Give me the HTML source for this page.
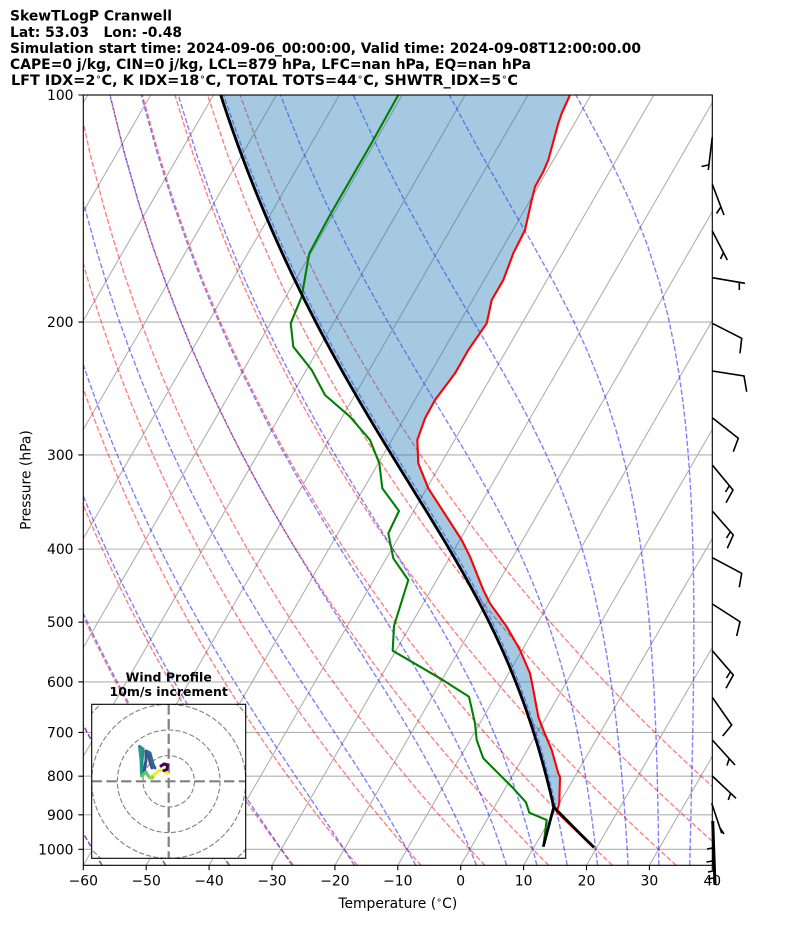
<!DOCTYPE html>
<html><head><meta charset="utf-8">
<style>
html,body{margin:0;padding:0;background:#fff;}
svg{display:block;}
text{font-family:"DejaVu Sans","Liberation Sans",sans-serif;fill:#000;}
.t{font-weight:bold;font-size:13.9px;white-space:pre;}
.tk{font-size:13.9px;}
</style></head>
<body>
<svg id="s" width="794" height="937" viewBox="0 0 794 937" xmlns="http://www.w3.org/2000/svg">
<defs>
<clipPath id="cp"><rect x="83.3" y="95" width="629" height="770.3"/></clipPath>
<clipPath id="ci"><rect x="91.7" y="704.3" width="154" height="154"/></clipPath>
</defs>
<rect width="794" height="937" fill="#fff"/>

<!-- titles -->
<text class="t" x="10" y="20.7" textLength="162" lengthAdjust="spacingAndGlyphs">SkewTLogP Cranwell</text>
<text class="t" x="10" y="36.8" textLength="172" lengthAdjust="spacingAndGlyphs" xml:space="preserve">Lat: 53.03   Lon: -0.48</text>
<text class="t" x="10" y="52.9" textLength="631" lengthAdjust="spacingAndGlyphs">Simulation start time: 2024-09-06_00:00:00, Valid time: 2024-09-08T12:00:00.00</text>
<text class="t" x="10" y="69" textLength="521" lengthAdjust="spacingAndGlyphs">CAPE=0 j/kg, CIN=0 j/kg, LCL=879 hPa, LFC=nan hPa, EQ=nan hPa</text>
<text class="t" x="11" y="85.1" textLength="507" lengthAdjust="spacingAndGlyphs" xml:space="preserve">LFT IDX=2<tspan dy="-5" font-size="9.5" font-weight="normal">∘</tspan><tspan dy="5">C, K IDX=18</tspan><tspan dy="-5" font-size="9.5" font-weight="normal">∘</tspan><tspan dy="5">C, TOTAL TOTS=44</tspan><tspan dy="-5" font-size="9.5" font-weight="normal">∘</tspan><tspan dy="5">C, SHWTR_IDX=5</tspan><tspan dy="-5" font-size="9.5" font-weight="normal">∘</tspan><tspan dy="5">C</tspan></text>

<g id="bg" clip-path="url(#cp)"></g>

<g clip-path="url(#cp)" fill="none" stroke-linejoin="round">
<polyline stroke="#ff0000" stroke-width="2.1" points="570,95 561.7,113.3 558.3,123.3 548.3,160 543.3,171.7 535,186.7 531.7,200 525,230 513.3,253.3 503.3,280 491.7,300 486.7,323.3 468.3,350 455,373.3 435,400 425,418.3 417.3,440 418.3,463.3 428.3,488.3 461.7,540 470,556.7 483.3,590 490,603.3 506.7,626.7 520,650 530,673.3 532.7,686.7 538.3,716.7 543.3,730 551.7,750 558.3,773.3 560,776.7 559.3,803.3 556.7,811.7 593.3,847.3"/>
<polyline stroke="#008000" stroke-width="2.1" points="398.3,95 373.3,140 330,215 309.3,253.3 301.7,296.7 290.7,323.3 293.3,346.7 311.7,370 325,395 350,416.7 370,440 379.3,463.3 382.3,488.3 399,511 388.3,533.3 393.3,558.3 408.3,580 394,626 392.7,650.7 440,678.3 469,696.7 475,723.3 476.7,740 483.3,758.3 513.3,788.3 526,802.3 529.3,812.7 546.7,820 543.3,846.7"/>
</g>
<g id="pc" clip-path="url(#cp)"></g>

<!-- axes frame -->
<rect x="83.3" y="95" width="629" height="770.3" fill="none" stroke="#000" stroke-width="1.1"/>

<!-- inset hodograph -->
<g>
<text x="168.7" y="681.7" text-anchor="middle" font-weight="bold" font-size="12.5">Wind Profile</text>
<text x="168.7" y="696" text-anchor="middle" font-weight="bold" font-size="12.5">10m/s increment</text>
<rect x="91.7" y="704.3" width="154" height="154" fill="#fff"/>
<g clip-path="url(#ci)" fill="none" stroke="#808080">
<circle cx="168.7" cy="781.3" r="25.7" stroke-width="1.1" stroke-dasharray="5.1 2.2"/>
<circle cx="168.7" cy="781.3" r="51.3" stroke-width="1.1" stroke-dasharray="5.1 2.2"/>
<circle cx="168.7" cy="781.3" r="77" stroke-width="1.1" stroke-dasharray="5.1 2.2"/>
<circle cx="168.7" cy="781.3" r="102.7" stroke-width="1.1" stroke-dasharray="5.1 2.2"/>
<line x1="91.7" y1="781.3" x2="245.7" y2="781.3" stroke-width="2.2" stroke-dasharray="10.3 4.4"/>
<line x1="168.7" y1="704.3" x2="168.7" y2="858.3" stroke-width="2.2" stroke-dasharray="10.3 4.4"/>
</g>
<g fill="none" stroke-width="3" stroke-linejoin="round" stroke-linecap="round">
<polyline stroke="#2a9d8f" points="139.5,746.5 141,760 141.5,775"/>
<polyline stroke="#21918c" points="139.5,746.5 143,749 142,762 142.5,774"/>
<polyline stroke="#3b528b" points="144,774 146,760 146,751 148,752 150,762 152,768"/>
<polyline stroke="#31688e" points="148,752 150,753 153,764 155,768"/>
<polyline stroke="#5ec962" points="141.5,776 146,772 149,777 152,778 154,775"/>
<polyline stroke="#a0da39" points="150,778 154,775"/>
<polyline stroke="#fde725" points="154,775 158,771 162,770 167.5,773"/>
<polyline stroke="#440154" points="161,766 164,764 167.5,765 167,769.5 164,770.5"/>
</g>
<rect x="91.7" y="704.3" width="154" height="154" fill="none" stroke="#000" stroke-width="1.1"/>
</g>

<!-- wind barbs -->
<path fill="none" stroke="#000" stroke-width="1.6" d="
M712.3,137L708.3,170M708.3,165L701.5,166.5
M712.3,184.3L724,215M720.5,207.5L716.5,213.5
M712.3,231L727.3,260M723.5,252.5L720.5,259
M712.3,277.7L745,283.3M739.3,282.4L739.3,290
M712.3,323.3L741.7,338.3L740,353.3
M712.3,371L744,376L746.7,391.7
M712.3,417.7L738.3,438.3L733.3,451.7
M712.3,465L733,490L726,502.7M729.5,485.5L725.5,492
M712.3,511L733.3,535L727.3,548.3M730.5,531.5L726.5,538
M712.3,557.7L741.7,573.3L739.3,587.3
M712.3,604L740,621.7L736.7,636
M712.3,650.7L733.3,675L726,688.3M730.5,671.5L726.5,678
M712.3,697.3L731.7,725L722.7,736
M712.3,740L735,765M729.3,758.3L727,765.5
M712.3,776L736,798.3M730.7,793L728.3,800
M711.7,803.3L721.7,833.3M720,828L724,834
M712,848L707,849M712.5,861L706.5,862M713,871L708,872M713.5,878L708,879
"/>
<path fill="none" stroke="#000" stroke-width="3" d="M712.7,821L715,885"/>

<!-- ticks -->
<path stroke="#000" stroke-width="1.1" fill="none" d="
M83.3,865.3v4.9M146.2,865.3v4.9M209.1,865.3v4.9M272,865.3v4.9M334.9,865.3v4.9M397.8,865.3v4.9M460.7,865.3v4.9M523.6,865.3v4.9M586.5,865.3v4.9M649.4,865.3v4.9M712.3,865.3v4.9
M83.3,95h-4.9M83.3,322.07h-4.9M83.3,454.89h-4.9M83.3,549.13h-4.9M83.3,622.23h-4.9M83.3,681.96h-4.9M83.3,732.46h-4.9M83.3,776.2h-4.9M83.3,814.78h-4.9M83.3,849.3h-4.9"/>
<g class="tk" text-anchor="middle">
<text x="83.3" y="885.5" font-size="13.9">−60</text>
<text x="146.2" y="885.5" font-size="13.9">−50</text>
<text x="209.1" y="885.5" font-size="13.9">−40</text>
<text x="272" y="885.5" font-size="13.9">−30</text>
<text x="334.9" y="885.5" font-size="13.9">−20</text>
<text x="397.8" y="885.5" font-size="13.9">−10</text>
<text x="460.7" y="885.5" font-size="13.9">0</text>
<text x="523.6" y="885.5" font-size="13.9">10</text>
<text x="586.5" y="885.5" font-size="13.9">20</text>
<text x="649.4" y="885.5" font-size="13.9">30</text>
<text x="712.3" y="885.5" font-size="13.9">40</text>
</g>
<g text-anchor="end" font-size="13.9">
<text x="73.5" y="100">100</text>
<text x="73.5" y="327.1">200</text>
<text x="73.5" y="459.9">300</text>
<text x="73.5" y="554.1">400</text>
<text x="73.5" y="627.2">500</text>
<text x="73.5" y="687">600</text>
<text x="73.5" y="737.5">700</text>
<text x="73.5" y="781.2">800</text>
<text x="73.5" y="819.8">900</text>
<text x="73.5" y="854.3">1000</text>
</g>
<text x="397.8" y="908" text-anchor="middle" font-size="13.9" xml:space="preserve">Temperature (<tspan dy="-5" font-size="9.5">∘</tspan><tspan dy="5">C)</tspan></text>
<text transform="translate(30.5,480) rotate(-90)" text-anchor="middle" font-size="13.9">Pressure (hPa)</text>
</svg>

<script>
(function(){
var NS="http://www.w3.org/2000/svg";
var X0=83.3,XS=6.29,YB=865.3,YT=95,YS=754.3,SK=Math.tan(Math.PI/6);
function py(p){return YT+YS*Math.log(p/100)/Math.LN10;}
function px(T,p){return X0+(T+60)*XS+SK*(YB-py(p));}
var bg=document.getElementById('bg');
var pc=document.getElementById('pc');
function path(par,d,attrs){var e=document.createElementNS(NS,'path');e.setAttribute('d',d);e.setAttribute('fill','none');for(var k in attrs)e.setAttribute(k,attrs[k]);par.appendChild(e);return e;}
function f(v){return v.toFixed(2);}
var P=[];for(var i=0;i<50;i++)P.push(1050+(100-1050)*i/49);
var d='';
[100,200,300,400,500,600,700,800,900,1000].forEach(function(p){d+='M83.3,'+f(py(p))+'H712.3';});
for(var T=-150;T<=40;T+=10){d+='M'+f(px(T,1050))+','+f(YB)+'L'+f(px(T,100))+','+f(YT);}
path(bg,d,{stroke:'#b0b0b0','stroke-width':1.1});
d='';
for(var t0=-60;t0<=50;t0+=10){for(var j=0;j<P.length;j++){var p=P[j];var Tt=(t0+273.15)*Math.pow(p/1000,0.28571)-273.15;d+=(j?'L':'M')+f(px(Tt,p))+','+f(py(p));}}
path(bg,d,{stroke:'#ff0000','stroke-opacity':0.5,'stroke-width':1.39,'stroke-dasharray':'5.14 2.22'});
var Rd=287.04749,Cp=1004.6662,Lv=2.50084e6,eps=0.6219569;
function g(p,T){var es=6.112*Math.exp(17.67*(T-273.15)/(T-29.65));var rs=eps*es/(p-es);return (Rd*T+Lv*rs)/(Cp+Lv*Lv*rs*eps/(Rd*T*T));}
function moist(T0,p0,p1){var n=80;var h=(Math.log(p1)-Math.log(p0))/n;var T=T0,lp=Math.log(p0);
 for(var i=0;i<n;i++){var p=Math.exp(lp),pm=Math.exp(lp+h/2),pe=Math.exp(lp+h);
  var k1=g(p,T),k2=g(pm,T+h/2*k1),k3=g(pm,T+h/2*k2),k4=g(pe,T+h*k3);T+=h/6*(k1+2*k2+2*k3+k4);lp+=h;}
 return T;}
var MT=[-60,-50,-40,-30,-20,-10,0,5,10,15,20,25,30,35];
d='';
MT.forEach(function(t0){for(var j=0;j<P.length;j++){var p=P[j];var Tt=moist(t0+273.15,1000,p)-273.15;d+=(j?'L':'M')+f(px(Tt,p))+','+f(py(p));}});
path(bg,d,{stroke:'#0000ff','stroke-opacity':0.5,'stroke-width':1.39,'stroke-dasharray':'5.14 2.22'});
var ps=994,Ts=19.55+273.15,pl=879;
var Tl=Ts*Math.pow(pl/ps,0.28571);
var par=[];
for(var k=0;k<=6;k++){var pp=ps+(pl-ps)*k/6;par.push([pp,Ts*Math.pow(pp/ps,0.28571)]);}
var up=[];var np=90;
for(var k=1;k<=np;k++){var pp=Math.exp(Math.log(pl)+(Math.log(100)-Math.log(pl))*k/np);up.push([pp,moist(Tl,pl,pp)]);}
var all=par.concat(up);
d='';all.forEach(function(q,i){d+=(i?'L':'M')+f(px(q[1]-273.15,q[0]))+','+f(py(q[0]));});
var red=[[570,95],[561.7,113.3],[558.3,123.3],[548.3,160],[543.3,171.7],[535,186.7],[531.7,200],[525,230],[513.3,253.3],[503.3,280],[491.7,300],[486.7,323.3],[468.3,350],[455,373.3],[435,400],[425,418.3],[417.3,440],[418.3,463.3],[428.3,488.3],[461.7,540],[470,556.7],[483.3,590],[490,603.3],[506.7,626.7],[520,650],[530,673.3],[532.7,686.7],[538.3,716.7],[543.3,730],[551.7,750],[558.3,773.3],[560,776.7],[559.3,803.3]];
var lx=px(Tl-273.15,pl),ly=py(pl);
var fd='M'+red.map(function(q){return q[0]+','+q[1];}).join('L');
fd+='L'+f(lx)+','+f(ly);
for(var k=0;k<up.length;k++){fd+='L'+f(px(up[k][1]-273.15,up[k][0]))+','+f(py(up[k][0]));}
fd+='Z';
var fe=path(bg,fd,{});fe.setAttribute('fill','#1f77b4');fe.setAttribute('fill-opacity','0.4');
path(pc,d,{stroke:'#000','stroke-width':2.8,'stroke-linejoin':'round'});
path(pc,'M543.3,846.7L'+f(lx)+','+f(ly),{stroke:'#000','stroke-width':2.8});
})();
</script>
</body></html>
